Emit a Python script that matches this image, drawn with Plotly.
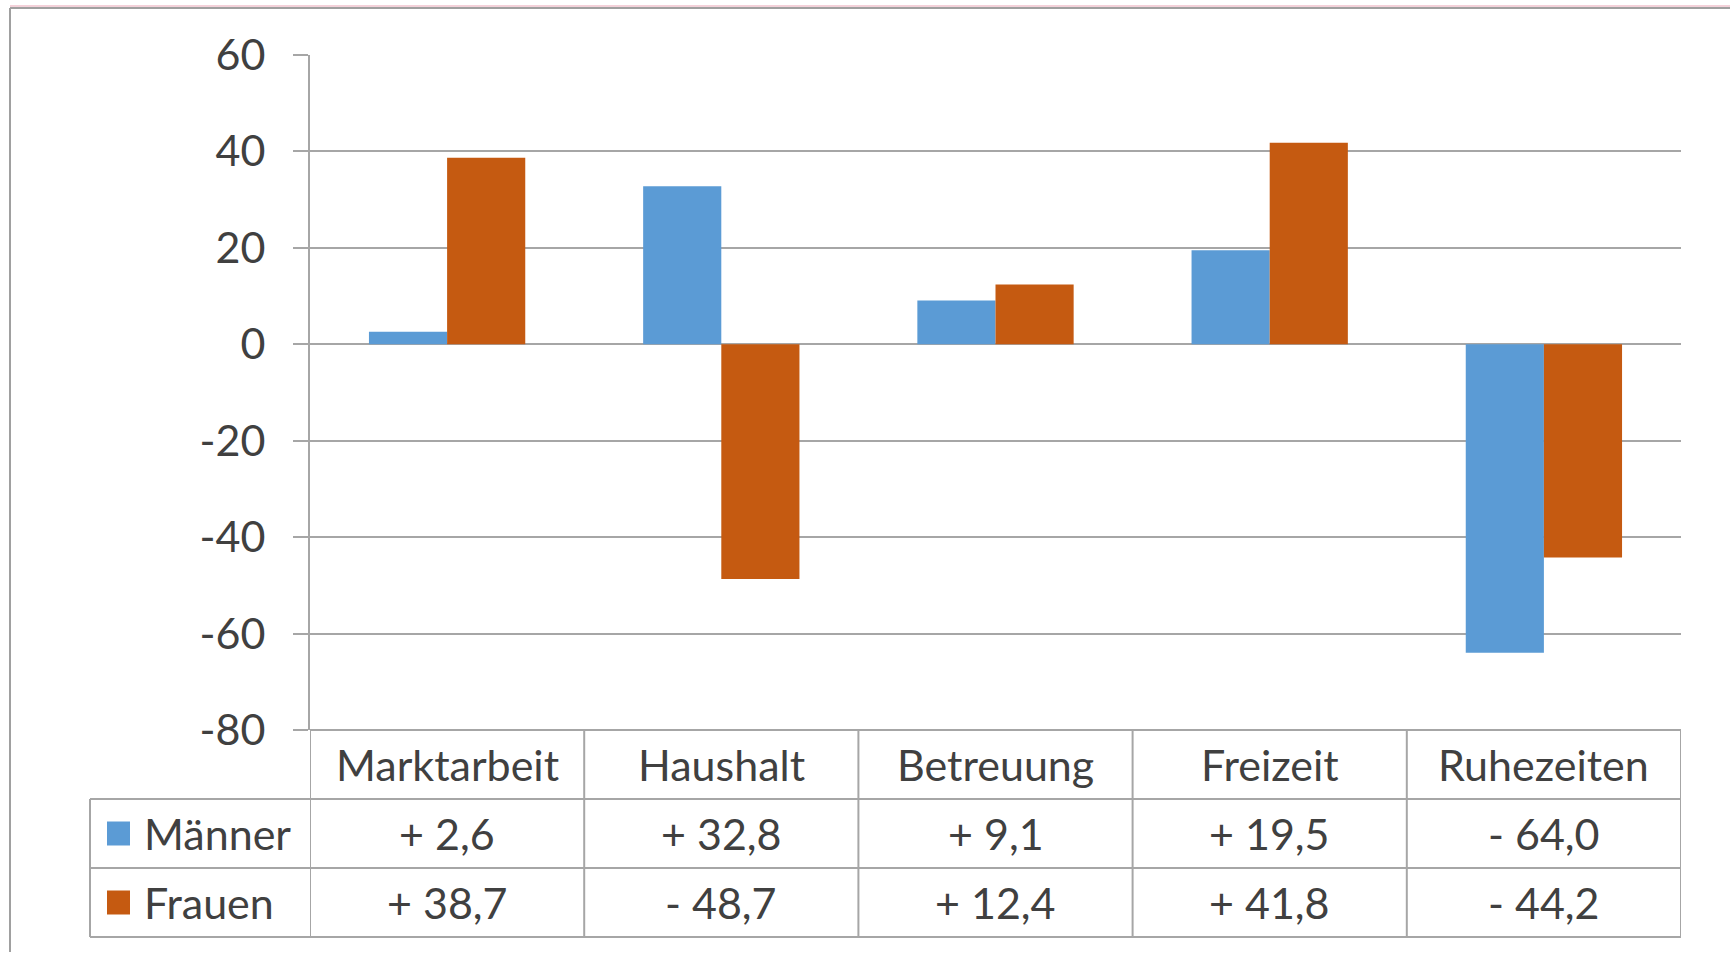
import plotly.graph_objects as go

categories = ["Marktarbeit", "Haushalt", "Betreuung", "Freizeit", "Ruhezeiten"]
series_names = ["Männer", "Frauen"]
maenner = [2.6, 32.8, 9.1, 19.5, -64.0]
frauen = [38.7, -48.7, 12.4, 41.8, -44.2]
y_ticks = [60, 40, 20, 0, -20, -40, -60, -80]

BLUE = "#5B9BD5"
ORANGE = "#C55A11"
GRID = "#a6a6a6"
TXT = "#404040"
FONT = "Lato"
FS = 43

W, H = 1730, 953
L, R, T, B = 310, 49, 55, 223
PW, PH = W - L - R, H - T - B


def px_x(px):
    return (px - L) / PW


def px_y(py):
    return (H - B - py) / PH


def fmt(v):
    s = "+" if v >= 0 else "-"
    return f"{s} {abs(v):.1f}".replace(".", ",")


fig = go.Figure()
fig.add_trace(go.Bar(x=categories, y=maenner, name=series_names[0], marker=dict(color=BLUE, line=dict(width=0))))
fig.add_trace(go.Bar(x=categories, y=frauen, name=series_names[1], marker=dict(color=ORANGE, line=dict(width=0))))

shapes = []
row_y = [px_y(730), px_y(799), px_y(868), px_y(937)]
x_left = px_x(90)
line = dict(color=GRID, width=2)
shapes.append(dict(type="line", xref="paper", yref="paper", x0=0, x1=1, y0=row_y[0], y1=row_y[0], line=line))
for yy in row_y[1:]:
    shapes.append(dict(type="line", xref="paper", yref="paper", x0=x_left, x1=1, y0=yy, y1=yy, line=line))
for i in range(len(categories) + 1):
    xb = i - 0.5
    shapes.append(dict(type="line", xref="x", yref="paper", x0=xb, x1=xb, y0=row_y[0], y1=row_y[3], line=line))
shapes.append(dict(type="line", xref="paper", yref="paper", x0=x_left, x1=x_left, y0=row_y[1], y1=row_y[3], line=line))

key_colors = [BLUE, ORANGE]
row_centers = [(row_y[1] + row_y[2]) / 2, (row_y[2] + row_y[3]) / 2]
half = 12 / PH
for c, yc in zip(key_colors, row_centers):
    shapes.append(dict(type="rect", xref="paper", yref="paper", x0=px_x(107), x1=px_x(130),
                       y0=yc - half, y1=yc + half, fillcolor=c, line=dict(width=0)))

fy = px_y(8)
fx = px_x(10)
shapes.append(dict(type="line", xref="paper", yref="paper", x0=fx, x1=px_x(1730), y0=px_y(6), y1=px_y(6),
                   line=dict(color="#e8a3b3", width=1)))
shapes.append(dict(type="line", xref="paper", yref="paper", x0=fx, x1=px_x(1730), y0=fy, y1=fy,
                   line=dict(color="#a0a0a0", width=2)))
shapes.append(dict(type="line", xref="paper", yref="paper", x0=fx, x1=fx, y0=fy, y1=px_y(952),
                   line=dict(color="#a0a0a0", width=2)))

annotations = []
header_y = (row_y[0] + row_y[1]) / 2
for c in categories:
    annotations.append(dict(x=c, y=header_y, xref="x", yref="paper", text=c, showarrow=False,
                            xanchor="center", yanchor="middle", font=dict(family=FONT, size=FS, color=TXT)))
for name, vals, yc in zip(series_names, [maenner, frauen], row_centers):
    annotations.append(dict(x=px_x(142), y=yc, xref="paper", yref="paper", text=name, showarrow=False,
                            xanchor="left", yanchor="middle", font=dict(family=FONT, size=FS, color=TXT)))
    for c, v in zip(categories, vals):
        annotations.append(dict(x=c, y=yc, xref="x", yref="paper", text=fmt(v), showarrow=False,
                                xanchor="center", yanchor="middle", font=dict(family=FONT, size=FS, color=TXT)))

fig.update_layout(
    width=W, height=H,
    margin=dict(l=L, r=R, t=T, b=B),
    paper_bgcolor="white", plot_bgcolor="white",
    barmode="group", bargap=0.43, bargroupgap=0,
    showlegend=False,
    shapes=shapes, annotations=annotations,
    font=dict(family=FONT, size=FS, color=TXT),
)
fig.update_xaxes(range=[-0.5, len(categories) - 0.5], showticklabels=False, showgrid=False,
                 zeroline=False, showline=False, ticks="")
fig.update_yaxes(range=[-80, 60], tickvals=y_ticks, ticktext=[str(v) for v in y_ticks],
                 showgrid=True, gridcolor=GRID, gridwidth=2, zeroline=True, zerolinecolor=GRID,
                 zerolinewidth=2, showline=True, linecolor=GRID, linewidth=2,
                 ticks="outside", ticklen=15, tickwidth=2, tickcolor=GRID,
                 ticklabelstandoff=19, tickfont=dict(family=FONT, size=FS, color=TXT))

fig.write_html("out.html", config={"displayModeBar": False},
               post_script="document.body.style.margin='0';document.body.style.overflow='hidden';")
